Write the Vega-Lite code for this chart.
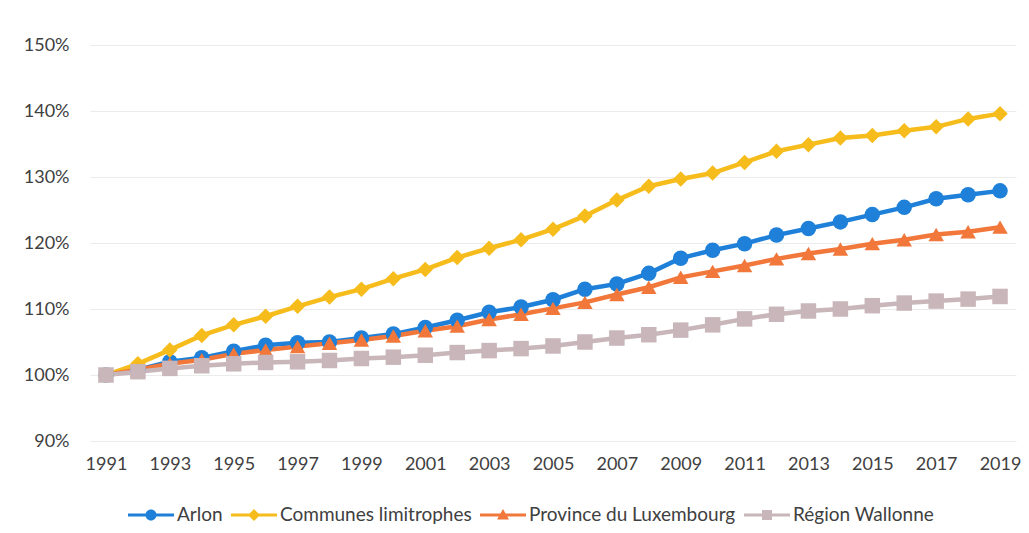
{
  "$schema": "https://vega.github.io/schema/vega-lite/v6.json",
  "width": 926,
  "height": 396,
  "autosize": {"type": "none"},
  "padding": {"left": 90, "top": 45, "right": 13, "bottom": 92},
  "background": "white",
  "config": {
    "view": {"stroke": null},
    "font": "Lato",
    "axis": {"labelFont": "Lato", "labelFontSize": 18, "labelColor": "#404040", "title": null}
  },
  "data": {
    "values": [
      {"year": 1991, "series": "Arlon", "value": 1.000},
      {"year": 1992, "series": "Arlon", "value": 1.008},
      {"year": 1993, "series": "Arlon", "value": 1.020},
      {"year": 1994, "series": "Arlon", "value": 1.026},
      {"year": 1995, "series": "Arlon", "value": 1.036},
      {"year": 1996, "series": "Arlon", "value": 1.045},
      {"year": 1997, "series": "Arlon", "value": 1.049},
      {"year": 1998, "series": "Arlon", "value": 1.050},
      {"year": 1999, "series": "Arlon", "value": 1.056},
      {"year": 2000, "series": "Arlon", "value": 1.062},
      {"year": 2001, "series": "Arlon", "value": 1.072},
      {"year": 2002, "series": "Arlon", "value": 1.083},
      {"year": 2003, "series": "Arlon", "value": 1.095},
      {"year": 2004, "series": "Arlon", "value": 1.103},
      {"year": 2005, "series": "Arlon", "value": 1.114},
      {"year": 2006, "series": "Arlon", "value": 1.130},
      {"year": 2007, "series": "Arlon", "value": 1.138},
      {"year": 2008, "series": "Arlon", "value": 1.154},
      {"year": 2009, "series": "Arlon", "value": 1.177},
      {"year": 2010, "series": "Arlon", "value": 1.189},
      {"year": 2011, "series": "Arlon", "value": 1.199},
      {"year": 2012, "series": "Arlon", "value": 1.212},
      {"year": 2013, "series": "Arlon", "value": 1.222},
      {"year": 2014, "series": "Arlon", "value": 1.232},
      {"year": 2015, "series": "Arlon", "value": 1.243},
      {"year": 2016, "series": "Arlon", "value": 1.254},
      {"year": 2017, "series": "Arlon", "value": 1.267},
      {"year": 2018, "series": "Arlon", "value": 1.273},
      {"year": 2019, "series": "Arlon", "value": 1.279},

      {"year": 1991, "series": "Communes limitrophes", "value": 1.000},
      {"year": 1992, "series": "Communes limitrophes", "value": 1.017},
      {"year": 1993, "series": "Communes limitrophes", "value": 1.038},
      {"year": 1994, "series": "Communes limitrophes", "value": 1.060},
      {"year": 1995, "series": "Communes limitrophes", "value": 1.076},
      {"year": 1996, "series": "Communes limitrophes", "value": 1.089},
      {"year": 1997, "series": "Communes limitrophes", "value": 1.104},
      {"year": 1998, "series": "Communes limitrophes", "value": 1.118},
      {"year": 1999, "series": "Communes limitrophes", "value": 1.130},
      {"year": 2000, "series": "Communes limitrophes", "value": 1.146},
      {"year": 2001, "series": "Communes limitrophes", "value": 1.160},
      {"year": 2002, "series": "Communes limitrophes", "value": 1.178},
      {"year": 2003, "series": "Communes limitrophes", "value": 1.192},
      {"year": 2004, "series": "Communes limitrophes", "value": 1.205},
      {"year": 2005, "series": "Communes limitrophes", "value": 1.221},
      {"year": 2006, "series": "Communes limitrophes", "value": 1.241},
      {"year": 2007, "series": "Communes limitrophes", "value": 1.265},
      {"year": 2008, "series": "Communes limitrophes", "value": 1.286},
      {"year": 2009, "series": "Communes limitrophes", "value": 1.297},
      {"year": 2010, "series": "Communes limitrophes", "value": 1.306},
      {"year": 2011, "series": "Communes limitrophes", "value": 1.322},
      {"year": 2012, "series": "Communes limitrophes", "value": 1.339},
      {"year": 2013, "series": "Communes limitrophes", "value": 1.349},
      {"year": 2014, "series": "Communes limitrophes", "value": 1.359},
      {"year": 2015, "series": "Communes limitrophes", "value": 1.363},
      {"year": 2016, "series": "Communes limitrophes", "value": 1.370},
      {"year": 2017, "series": "Communes limitrophes", "value": 1.376},
      {"year": 2018, "series": "Communes limitrophes", "value": 1.388},
      {"year": 2019, "series": "Communes limitrophes", "value": 1.396},

      {"year": 1991, "series": "Province du Luxembourg", "value": 1.000},
      {"year": 1992, "series": "Province du Luxembourg", "value": 1.008},
      {"year": 1993, "series": "Province du Luxembourg", "value": 1.017},
      {"year": 1994, "series": "Province du Luxembourg", "value": 1.023},
      {"year": 1995, "series": "Province du Luxembourg", "value": 1.032},
      {"year": 1996, "series": "Province du Luxembourg", "value": 1.038},
      {"year": 1997, "series": "Province du Luxembourg", "value": 1.043},
      {"year": 1998, "series": "Province du Luxembourg", "value": 1.048},
      {"year": 1999, "series": "Province du Luxembourg", "value": 1.053},
      {"year": 2000, "series": "Province du Luxembourg", "value": 1.059},
      {"year": 2001, "series": "Province du Luxembourg", "value": 1.067},
      {"year": 2002, "series": "Province du Luxembourg", "value": 1.074},
      {"year": 2003, "series": "Province du Luxembourg", "value": 1.084},
      {"year": 2004, "series": "Province du Luxembourg", "value": 1.092},
      {"year": 2005, "series": "Province du Luxembourg", "value": 1.101},
      {"year": 2006, "series": "Province du Luxembourg", "value": 1.110},
      {"year": 2007, "series": "Province du Luxembourg", "value": 1.122},
      {"year": 2008, "series": "Province du Luxembourg", "value": 1.133},
      {"year": 2009, "series": "Province du Luxembourg", "value": 1.148},
      {"year": 2010, "series": "Province du Luxembourg", "value": 1.157},
      {"year": 2011, "series": "Province du Luxembourg", "value": 1.166},
      {"year": 2012, "series": "Province du Luxembourg", "value": 1.176},
      {"year": 2013, "series": "Province du Luxembourg", "value": 1.184},
      {"year": 2014, "series": "Province du Luxembourg", "value": 1.191},
      {"year": 2015, "series": "Province du Luxembourg", "value": 1.199},
      {"year": 2016, "series": "Province du Luxembourg", "value": 1.205},
      {"year": 2017, "series": "Province du Luxembourg", "value": 1.213},
      {"year": 2018, "series": "Province du Luxembourg", "value": 1.217},
      {"year": 2019, "series": "Province du Luxembourg", "value": 1.224},

      {"year": 1991, "series": "Région Wallonne", "value": 1.000},
      {"year": 1992, "series": "Région Wallonne", "value": 1.005},
      {"year": 1993, "series": "Région Wallonne", "value": 1.010},
      {"year": 1994, "series": "Région Wallonne", "value": 1.014},
      {"year": 1995, "series": "Région Wallonne", "value": 1.017},
      {"year": 1996, "series": "Région Wallonne", "value": 1.019},
      {"year": 1997, "series": "Région Wallonne", "value": 1.020},
      {"year": 1998, "series": "Région Wallonne", "value": 1.022},
      {"year": 1999, "series": "Région Wallonne", "value": 1.025},
      {"year": 2000, "series": "Région Wallonne", "value": 1.027},
      {"year": 2001, "series": "Région Wallonne", "value": 1.030},
      {"year": 2002, "series": "Région Wallonne", "value": 1.034},
      {"year": 2003, "series": "Région Wallonne", "value": 1.037},
      {"year": 2004, "series": "Région Wallonne", "value": 1.040},
      {"year": 2005, "series": "Région Wallonne", "value": 1.044},
      {"year": 2006, "series": "Région Wallonne", "value": 1.050},
      {"year": 2007, "series": "Région Wallonne", "value": 1.056},
      {"year": 2008, "series": "Région Wallonne", "value": 1.061},
      {"year": 2009, "series": "Région Wallonne", "value": 1.068},
      {"year": 2010, "series": "Région Wallonne", "value": 1.076},
      {"year": 2011, "series": "Région Wallonne", "value": 1.085},
      {"year": 2012, "series": "Région Wallonne", "value": 1.092},
      {"year": 2013, "series": "Région Wallonne", "value": 1.097},
      {"year": 2014, "series": "Région Wallonne", "value": 1.100},
      {"year": 2015, "series": "Région Wallonne", "value": 1.105},
      {"year": 2016, "series": "Région Wallonne", "value": 1.109},
      {"year": 2017, "series": "Région Wallonne", "value": 1.112},
      {"year": 2018, "series": "Région Wallonne", "value": 1.115},
      {"year": 2019, "series": "Région Wallonne", "value": 1.119}
    ]
  },
  "encoding": {
    "x": {
      "field": "year",
      "type": "quantitative",
      "scale": {"domain": [1990.5, 2019.5], "nice": false, "zero": false},
      "axis": {
        "values": [1991, 1993, 1995, 1997, 1999, 2001, 2003, 2005, 2007, 2009, 2011, 2013, 2015, 2017, 2019],
        "format": "d",
        "grid": false,
        "ticks": false,
        "domain": false,
        "labelPadding": 14,
        "labelFlush": false
      }
    },
    "y": {
      "field": "value",
      "type": "quantitative",
      "scale": {"domain": [0.9, 1.5], "nice": false, "zero": false},
      "axis": {
        "values": [0.9, 1.0, 1.1, 1.2, 1.3, 1.4, 1.5],
        "format": ".0%",
        "grid": true,
        "gridColor": "#ebebeb",
        "gridWidth": 1,
        "ticks": false,
        "domain": false,
        "labelPadding": 21
      }
    },
    "color": {
      "field": "series",
      "type": "nominal",
      "scale": {
        "domain": ["Arlon", "Communes limitrophes", "Province du Luxembourg", "Région Wallonne"],
        "range": ["#1E80D8", "#F6BC1C", "#F2773A", "#C8B6BA"]
      },
      "legend": {
        "title": null,
        "orient": "none",
        "direction": "horizontal",
        "gridAlign": "none",
        "legendX": 51,
        "legendY": 460,
        "padding": 0,
        "symbolSize": 400,
        "symbolStrokeWidth": 0,
        "labelOffset": 16,
        "columnPadding": 8,
        "labelLimit": 0,
        "labelFont": "Lato",
        "labelFontSize": 19,
        "labelColor": "#404040",
        "encode": {
          "symbols": {
            "update": {
              "size": {"value": 400},
              "fill": {"scale": "color", "field": "value"},
              "fillOpacity": {"value": 1},
              "opacity": {"value": 1},
              "strokeWidth": {"value": 0},
              "shape": {
                "signal": "datum.value === 'Arlon' ? 'M-2.3,-0.15H2.3V0.15H-2.3Z M0.55,0A0.55,0.55 0 1,1 -0.55,0A0.55,0.55 0 1,1 0.55,0Z' : datum.value === 'Communes limitrophes' ? 'M-2.3,-0.15H2.3V0.15H-2.3Z M0,-0.6L0.6,0L0,0.6L-0.6,0Z' : datum.value === 'Province du Luxembourg' ? 'M-2.3,-0.15H2.3V0.15H-2.3Z M0,-0.6L0.6,0.45L-0.6,0.45Z' : 'M-2.3,-0.15H2.3V0.15H-2.3Z M-0.5,-0.5H0.5V0.5H-0.5Z'"
              }
            }
          }
        }
      }
    }
  },
  "layer": [
    {
      "mark": {"type": "line", "strokeWidth": 4.5}
    },
    {
      "mark": {"type": "point", "filled": true, "opacity": 1, "size": 240},
      "encoding": {
        "shape": {
          "field": "series",
          "type": "nominal",
          "scale": {"range": ["circle", "diamond", "triangle-up", "square"]},
          "legend": null
        }
      }
    }
  ]
}
